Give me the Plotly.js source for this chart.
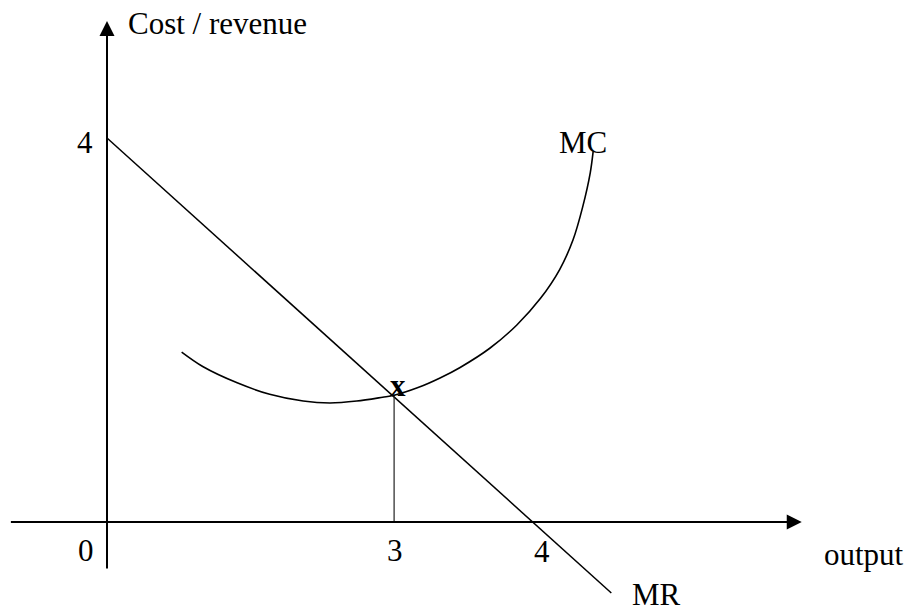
<!DOCTYPE html>
<html>
<head>
<meta charset="utf-8">
<script src="https://cdn.plot.ly/plotly-3.0.1.min.js"></script>
<style>html,body{margin:0;padding:0;background:#fff;}#chart{width:906px;height:612px;}</style>
</head>
<body>
<div id="chart"></div>
<script>
// Marginal cost curve (MC)
const mcX = [0.78, 1.00, 1.36, 1.70, 2.05, 2.33, 2.61, 2.88, 3.00, 3.25, 3.48, 3.69, 4.00, 4.28, 4.53, 4.73, 4.87, 4.97, 5.05, 5.08];
const mcY = [1.77, 1.62, 1.45, 1.33, 1.26, 1.24, 1.26, 1.30, 1.32, 1.40, 1.50, 1.61, 1.81, 2.05, 2.33, 2.63, 2.94, 3.28, 3.64, 3.86];
// Marginal revenue line (MR)
const mrX = [0, 5.27];
const mrY = [4, -0.74];
// Drop line at output 3
const dropX = [3, 3];
const dropY = [0, 1.31];
// Axis extents (tail, tip)
const xAxisFrom = [-1.02, 0], xAxisTo = [7.26, 0];
const yAxisFrom = [0, -0.5], yAxisTo = [0, 5.22];
// Tick labels
const tickText = ["0", "3", "4", "4"];
const tickX = [-0.22, 3.01, 4.55, -0.23];
const tickY = [-0.30, -0.30, -0.31, 3.95];
// Curve / axis labels
const labelText = ["Cost / revenue", "output", "MR", "MC", "<b>x</b>"];
const labelX = [0.20, 7.47, 5.47, 4.97, 3.04];
const labelY = [5.19, -0.34, -0.76, 3.95, 1.42];
const labelAnchor = ["left", "left", "left", "center", "center"];

const font = {family: "Liberation Serif, Times New Roman, serif", size: 31, color: "#000"};

const traces = [
  {x: mcX, y: mcY, mode: "lines", line: {color: "#000", width: 1.6, shape: "spline", smoothing: 0.9}, hoverinfo: "skip"},
  {x: mrX, y: mrY, mode: "lines", line: {color: "#000", width: 1.5}, hoverinfo: "skip"},
  {x: dropX, y: dropY, mode: "lines", line: {color: "#222", width: 1.2}, hoverinfo: "skip"}
];

const annotations = [];
[[xAxisFrom, xAxisTo], [yAxisFrom, yAxisTo]].forEach(([a, b]) => {
  annotations.push({x: b[0], y: b[1], ax: a[0], ay: a[1], xref: "x", yref: "y", axref: "x", ayref: "y",
    text: "", showarrow: true, arrowhead: 2, arrowsize: 1.5, arrowwidth: 2, arrowcolor: "#000", standoff: 0});
});
tickText.forEach((t, i) => annotations.push({x: tickX[i], y: tickY[i], xref: "x", yref: "y", text: t,
  showarrow: false, font: font, xanchor: "center", yanchor: "middle"}));
labelText.forEach((t, i) => annotations.push({x: labelX[i], y: labelY[i], xref: "x", yref: "y", text: t,
  showarrow: false, font: font, xanchor: labelAnchor[i], yanchor: "middle"}));

const layout = {
  width: 906, height: 612, autosize: false,
  margin: {l: 0, r: 0, t: 0, b: 0, pad: 0},
  paper_bgcolor: "#fff", plot_bgcolor: "#fff",
  showlegend: false,
  xaxis: {range: [-1.1181, 8.3490], visible: false, fixedrange: true},
  yaxis: {range: [-0.9375, 5.4375], visible: false, fixedrange: true},
  annotations: annotations
};

Plotly.newPlot("chart", traces, layout, {staticPlot: true, displayModeBar: false});
</script>
</body>
</html>
